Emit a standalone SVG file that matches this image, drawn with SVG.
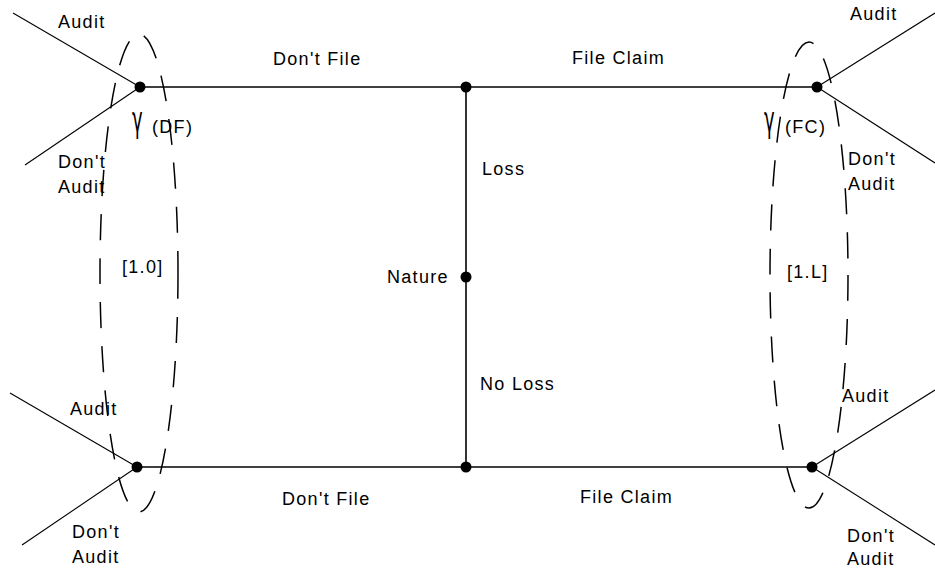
<svg xmlns="http://www.w3.org/2000/svg" width="935" height="571" viewBox="0 0 935 571">
<style>
.t{font-family:"Liberation Sans",Arial,sans-serif;font-size:18px;letter-spacing:1.3px;fill:#000}
.g{font-family:"DejaVu Sans",sans-serif;font-size:20px;fill:#000}
.e{stroke:#000;stroke-width:1.6;fill:none}
.b{stroke:#000;stroke-width:1.1;fill:none}
.d{fill:none;stroke:#000;stroke-width:1.5;stroke-dasharray:26 18}
</style>
<rect width="935" height="571" fill="#fff"/>
<g id="connectors">
<line class="e" x1="140" y1="87" x2="817" y2="87"/>
<line class="e" x1="137" y1="467" x2="812" y2="467"/>
<line class="e" x1="466" y1="87" x2="466" y2="467"/>
<line class="b" x1="13" y1="13" x2="140" y2="87"/>
<line class="b" x1="25" y1="165" x2="140" y2="87"/>
<line class="b" x1="935" y1="13" x2="817" y2="87"/>
<line class="b" x1="935" y1="163" x2="817" y2="87"/>
<line class="b" x1="10" y1="393" x2="137" y2="467"/>
<line class="b" x1="22" y1="545" x2="137" y2="467"/>
<line class="b" x1="935" y1="390" x2="812" y2="467"/>
<line class="b" x1="935" y1="545" x2="812" y2="467"/>
</g>
<g id="infoset-DF"><ellipse class="d" cx="139" cy="273" rx="39" ry="239"/></g>
<g id="infoset-FC"><ellipse class="d" cx="809" cy="275" rx="39" ry="233"/></g>
<g id="n-tl"><circle cx="140" cy="87" r="5.5"/></g>
<g id="n-tm"><circle cx="466" cy="87" r="5.5"/></g>
<g id="n-tr"><circle cx="817" cy="87" r="5.5"/></g>
<g id="n-nature"><circle cx="466" cy="277" r="5.5"/><text class="t" x="387" y="283">Nature</text></g>
<g id="n-bl"><circle cx="137" cy="467" r="5.5"/></g>
<g id="n-bm"><circle cx="466" cy="467" r="5.5"/></g>
<g id="n-br"><circle cx="812" cy="467" r="5.5"/></g>
<g id="labels">
<text class="t" x="58" y="28">Audit</text>
<text class="t" x="58" y="168">Don't</text>
<text class="t" x="58" y="193">Audit</text>
<text class="t" x="273" y="65">Don't File</text>
<text class="t" x="572" y="64">File Claim</text>
<text class="t" x="482" y="175">Loss</text>
<text class="t" x="480" y="390">No Loss</text>
<text class="g" transform="translate(132,132) scale(0.9,1.8)">γ</text>
<text class="t" x="152" y="133">(DF)</text>
<text class="g" transform="translate(764,132) scale(0.9,1.8)">γ</text>
<text class="t" x="785" y="133">(FC)</text>
<text class="t" x="122" y="273">[1.0]</text>
<text class="t" x="787" y="278">[1.L]</text>
<text class="t" x="850" y="20">Audit</text>
<text class="t" x="848" y="165">Don't</text>
<text class="t" x="848" y="190">Audit</text>
<text class="t" x="70" y="415">Audit</text>
<text class="t" x="72" y="538">Don't</text>
<text class="t" x="72" y="563">Audit</text>
<text class="t" x="282" y="505">Don't File</text>
<text class="t" x="580" y="503">File Claim</text>
<text class="t" x="842" y="402">Audit</text>
<text class="t" x="847" y="542">Don't</text>
<text class="t" x="847" y="565">Audit</text>
</g>
</svg>
